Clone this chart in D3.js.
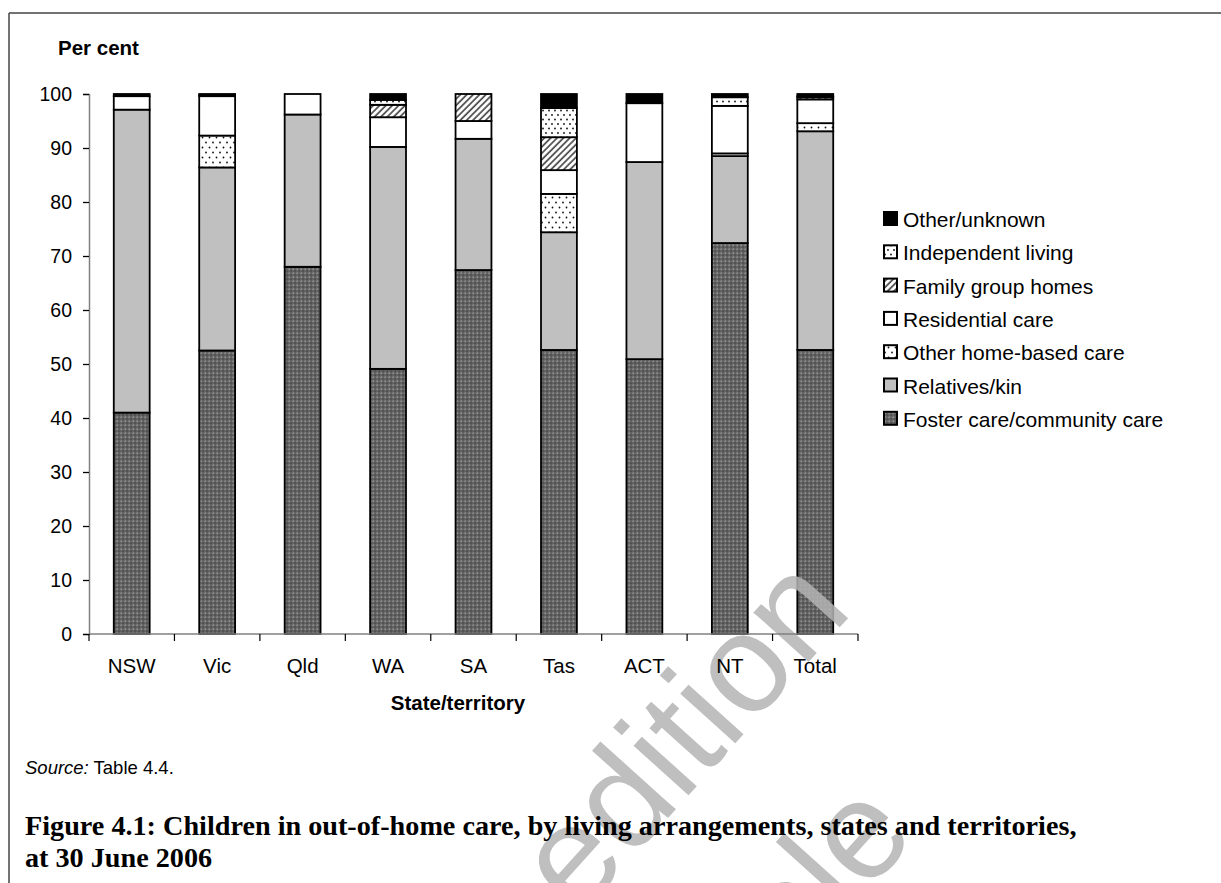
<!DOCTYPE html>
<html>
<head>
<meta charset="utf-8">
<script src="https://cdn.jsdelivr.net/npm/d3@7"></script>
<style>
  html, body { margin: 0; padding: 0; background: #fff; }
  svg { display: block; }
</style>
</head>
<body>
<script>
// ---------- data ----------
const categories = ["NSW", "Vic", "Qld", "WA", "SA", "Tas", "ACT", "NT", "Total"];
const fosterCare   = [41.0, 52.5, 68.0, 49.1, 67.4, 52.6, 50.9, 72.4, 52.6];
const relativesKin = [56.1, 33.9, 28.2, 41.1, 24.3, 21.8, 36.5, 16.1, 40.5];
const otherHomeBased = [0, 5.9, 0, 0, 0, 7.1, 0, 0.5, 1.5];
const residentialCare = [2.5, 7.3, 3.8, 5.5, 3.3, 4.4, 10.9, 8.8, 4.4];
const familyGroupHomes = [0, 0.2, 0, 2.3, 5.0, 6.1, 0, 0, 0.4];
const independentLiving = [0, 0.2, 0, 0.9, 0, 5.4, 0, 1.6, 0.2];
const otherUnknown = [0.4, 0, 0, 1.1, 0, 2.6, 1.7, 0.6, 0.4];
const yTicks = [0, 10, 20, 30, 40, 50, 60, 70, 80, 90, 100];

const seriesNames = ["Foster care/community care", "Relatives/kin", "Other home-based care",
  "Residential care", "Family group homes", "Independent living", "Other/unknown"];
const seriesValues = [fosterCare, relativesKin, otherHomeBased, residentialCare,
  familyGroupHomes, independentLiving, otherUnknown];
const seriesFill = ["url(#pFoster)", "#c0c0c0", "url(#pDots)", "#ffffff",
  "url(#pHatch)", "url(#pDots2)", "#000000"];

// ---------- setup ----------
const W = 1221, H = 883;
const svg = d3.select("body").append("svg").attr("width", W).attr("height", H);
const defs = svg.append("defs");

// foster pattern: dark grey with light/dark dots
const pf = defs.append("pattern").attr("id", "pFoster").attr("patternUnits", "userSpaceOnUse")
  .attr("width", 4).attr("height", 4);
pf.append("rect").attr("width", 4).attr("height", 4).attr("fill", "#626262");
pf.append("rect").attr("x", 0.5).attr("y", 0.5).attr("width", 1.5).attr("height", 1.5).attr("fill", "#959595");
pf.append("rect").attr("x", 2.5).attr("y", 2.5).attr("width", 1.2).attr("height", 1.2).attr("fill", "#3a3a3a");

// sparse dots
const pd = defs.append("pattern").attr("id", "pDots").attr("patternUnits", "userSpaceOnUse")
  .attr("width", 14).attr("height", 10);
pd.append("rect").attr("width", 14).attr("height", 10).attr("fill", "#fff");
[[3, 2.5], [10, 2.5], [6.5, 7.5], [13.5, 7.5], [-0.5, 7.5]].forEach(([x, y]) =>
  pd.append("circle").attr("cx", x).attr("cy", y).attr("r", 0.9).attr("fill", "#111"));

const pd2 = defs.append("pattern").attr("id", "pDots2").attr("patternUnits", "userSpaceOnUse")
  .attr("width", 12).attr("height", 9);
pd2.append("rect").attr("width", 12).attr("height", 9).attr("fill", "#fff");
[[3, 2.5], [9, 2.5], [6, 7], [0, 7], [12, 7]].forEach(([x, y]) =>
  pd2.append("circle").attr("cx", x).attr("cy", y).attr("r", 0.9).attr("fill", "#111"));

// hatch
const ph = defs.append("pattern").attr("id", "pHatch").attr("patternUnits", "userSpaceOnUse")
  .attr("width", 4.5).attr("height", 4.5).attr("patternTransform", "rotate(45)");
ph.append("rect").attr("width", 4.5).attr("height", 4.5).attr("fill", "#fff");
ph.append("line").attr("x1", 1).attr("y1", 0).attr("x2", 1).attr("y2", 4.5)
  .attr("stroke", "#4a4a4a").attr("stroke-width", 1.7);

// ---------- frame ----------
svg.append("line").attr("x1", 9).attr("y1", 13).attr("x2", W).attr("y2", 13)
  .attr("stroke", "#444").attr("stroke-width", 1.5);
svg.append("line").attr("x1", 9).attr("y1", 13).attr("x2", 9).attr("y2", H)
  .attr("stroke", "#444").attr("stroke-width", 1.5);

// ---------- scales ----------
const x = d3.scaleBand().domain(categories).range([89, 858]).paddingInner(0.58).paddingOuter(0.29);
const y = d3.scaleLinear().domain([0, 100]).range([634, 94]);

// ---------- bars ----------
const stackData = categories.map((c, i) => {
  const o = { cat: c };
  seriesNames.forEach((s, j) => o[s] = seriesValues[j][i]);
  return o;
});
const stack = d3.stack().keys(seriesNames)(stackData);

const barsG = svg.append("g");
stack.forEach((layer, j) => {
  barsG.selectAll(null)
    .data(layer.filter(d => d[1] - d[0] > 0))
    .join("rect")
    .attr("x", d => x(d.data.cat))
    .attr("width", x.bandwidth())
    .attr("y", d => y(d[1]))
    .attr("height", d => y(d[0]) - y(d[1]))
    .attr("fill", seriesFill[j])
    .attr("stroke", "#000")
    .attr("stroke-width", 1.8);
});

// ---------- watermark ----------
const wm = svg.append("g").attr("fill", "#b4b4b4").attr("opacity", 0.85)
  .attr("font-family", "Liberation Sans, Arial, sans-serif").attr("font-size", 140);
wm.append("text").attr("transform", "translate(578,918) rotate(-48)").text("edition");
wm.append("text").attr("transform", "translate(918,836) rotate(-48)")
  .attr("text-anchor", "end").text("Sample");

// ---------- axes ----------
const font = "Liberation Sans, Arial, sans-serif";
const yAxis = svg.append("g").attr("transform", "translate(89,0)")
  .call(d3.axisLeft(y).tickValues(yTicks).tickSize(6).tickPadding(11).tickFormat(d3.format("d")));
yAxis.select(".domain").attr("stroke", "#808080").attr("stroke-width", 1.5);
yAxis.selectAll(".tick line").attr("stroke", "#000").attr("stroke-width", 1.3);
yAxis.selectAll(".tick text").attr("font-family", font).attr("font-size", 19.5).attr("fill", "#000");

// x axis line with ticks at band boundaries
const xAxisG = svg.append("g");
xAxisG.append("line").attr("x1", 89).attr("x2", 858).attr("y1", 634).attr("y2", 634)
  .attr("stroke", "#808080").attr("stroke-width", 1.5);
const edgeTicks = [89].concat(categories.map((c, i) => 89 + x.step() * (i + 1)));
xAxisG.selectAll(null).data(edgeTicks).join("line")
  .attr("x1", d => d).attr("x2", d => d).attr("y1", 634).attr("y2", 641)
  .attr("stroke", "#000").attr("stroke-width", 1.2);
xAxisG.selectAll(null).data(categories).join("text")
  .attr("x", d => x(d) + x.bandwidth() / 2).attr("y", 673)
  .attr("text-anchor", "middle").attr("font-family", font).attr("font-size", 20.5)
  .text(d => d);

svg.append("text").attr("x", 458).attr("y", 710).attr("text-anchor", "middle")
  .attr("font-family", font).attr("font-size", 20.5).attr("font-weight", "bold").text("State/territory");
svg.append("text").attr("x", 58).attr("y", 55)
  .attr("font-family", font).attr("font-size", 20.5).attr("font-weight", "bold").text("Per cent");

// ---------- legend ----------
const legendOrder = seriesNames.map((s, j) => j).reverse();
const lg = svg.append("g");
legendOrder.forEach((j, k) => {
  const yy = 211 + k * 33.3;
  lg.append("rect").attr("x", 884).attr("y", yy + 1).attr("width", 13).attr("height", 13)
    .attr("fill", seriesFill[j]).attr("stroke", "#000").attr("stroke-width", 2);
  lg.append("text").attr("x", 903).attr("y", yy + 16)
    .attr("font-family", font).attr("font-size", 21).text(seriesNames[j]);
});

// ---------- source & caption ----------
const src = svg.append("text").attr("x", 25).attr("y", 774)
  .attr("font-family", font).attr("font-size", 18.5);
src.append("tspan").attr("font-style", "italic").text("Source:");
src.append("tspan").text(" Table 4.4.");

const serif = "Liberation Serif, Times New Roman, serif";
const t1 = svg.append("text").attr("x", 25).attr("y", 835)
  .attr("font-family", serif).attr("font-weight", "bold").attr("font-size", 26)
  .text("Figure 4.1: Children in out-of-home care, by living arrangements, states and territories,");
const w1 = t1.node().getComputedTextLength();
const fs = 26 * 1052 / w1;
t1.attr("font-size", fs);
svg.append("text").attr("x", 25).attr("y", 867)
  .attr("font-family", serif).attr("font-weight", "bold").attr("font-size", fs)
  .text("at 30 June 2006");
</script>
</body>
</html>
